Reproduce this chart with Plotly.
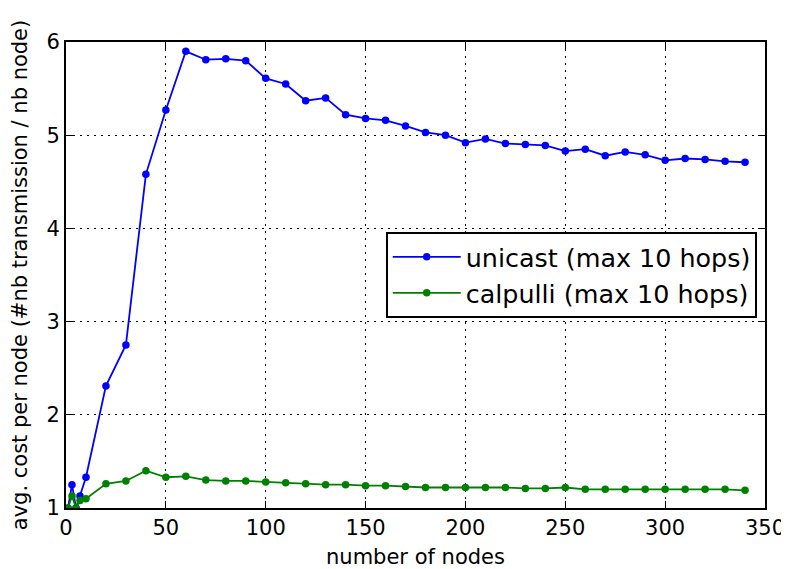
import plotly.graph_objects as go

nodes = [1, 3, 5, 7, 10, 20, 30, 40, 50, 60, 70, 80, 90, 100, 110, 120, 130, 140, 150,
         160, 170, 180, 190, 200, 210, 220, 230, 240, 250, 260, 270, 280, 290, 300,
         310, 320, 330, 340]
unicast = [1.0, 1.25, 1.0, 1.13, 1.33, 2.31, 2.75, 4.58, 5.27, 5.90, 5.81, 5.82, 5.80,
           5.61, 5.55, 5.37, 5.40, 5.22, 5.18, 5.16, 5.10, 5.03, 5.00, 4.92, 4.96, 4.91,
           4.90, 4.89, 4.83, 4.85, 4.78, 4.82, 4.79, 4.73, 4.75, 4.74, 4.72, 4.71]
calpulli = [1.0, 1.13, 1.0, 1.08, 1.10, 1.26, 1.29, 1.40, 1.33, 1.34, 1.30, 1.29, 1.29,
            1.28, 1.27, 1.26, 1.25, 1.25, 1.24, 1.24, 1.23, 1.22, 1.22, 1.22, 1.22, 1.22,
            1.21, 1.21, 1.22, 1.20, 1.20, 1.20, 1.20, 1.20, 1.20, 1.20, 1.20, 1.19]
x_ticks = [0, 50, 100, 150, 200, 250, 300, 350]
y_ticks = [1, 2, 3, 4, 5, 6]

FONT = "DejaVu Sans"

fig = go.Figure()
fig.add_trace(go.Scatter(x=nodes, y=unicast, mode="lines+markers",
                         name="unicast (max 10 hops)",
                         line=dict(color="#0000ff", width=1.8),
                         marker=dict(color="#0000ff", size=7.5)))
fig.add_trace(go.Scatter(x=nodes, y=calpulli, mode="lines+markers",
                         name="calpulli (max 10 hops)",
                         line=dict(color="#008000", width=1.8),
                         marker=dict(color="#008000", size=7.5)))

axis_common = dict(showline=True, linecolor="black", linewidth=1.7, mirror="allticks",
                   ticks="inside", ticklen=7, tickcolor="black", tickwidth=1.2,
                   showgrid=True, gridcolor="black", griddash="1.8px,5.2px", gridwidth=0.9,
                   zeroline=False, automargin=False,
                   tickfont=dict(family=FONT, size=21, color="black"))

# the page body has an 8px margin, so the figure is sized to fill the rest
fig.update_layout(
    width=781, height=561,
    margin=dict(l=58, r=24, t=34, b=61, autoexpand=False),
    paper_bgcolor="white", plot_bgcolor="white",
    font=dict(family=FONT, color="black"),
    xaxis=dict(range=[0, 350], tickvals=x_ticks,
               title=dict(text="number of nodes", font=dict(family=FONT, size=21)),
               **axis_common),
    yaxis=dict(range=[1, 6], tickvals=y_ticks,
               title=dict(text="avg. cost per node (#nb transmission / nb node)",
                          font=dict(family=FONT, size=21)),
               **axis_common),
    legend=dict(x=0.9886, y=0.592, xanchor="right", yanchor="top",
                bgcolor="white", bordercolor="black", borderwidth=1.7,
                font=dict(family=FONT, size=25.4, color="black"),
                itemwidth=68, tracegroupgap=0),
    showlegend=True,
)

fig.write_html("out.html")
